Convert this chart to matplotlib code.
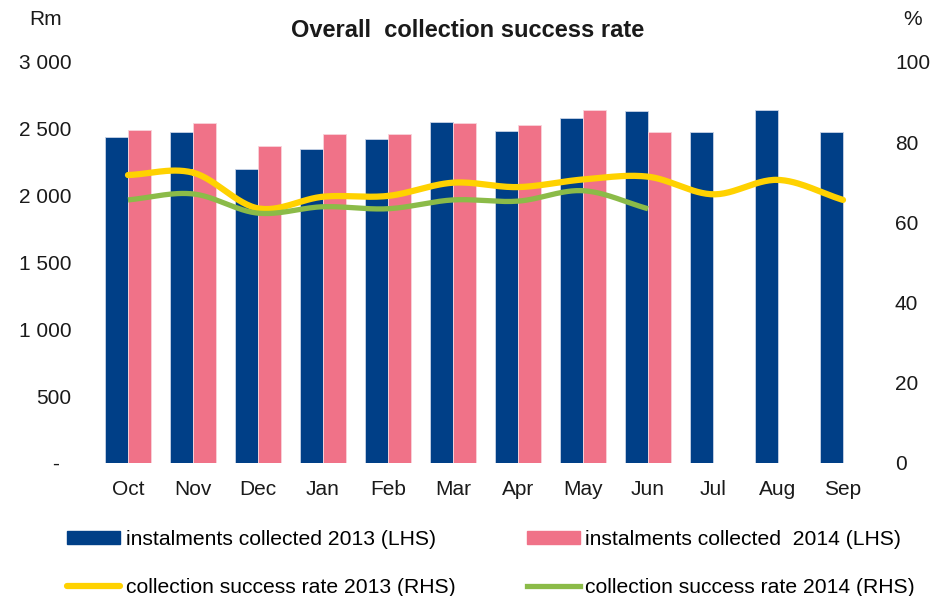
import numpy as np
import matplotlib.pyplot as plt
from matplotlib.lines import Line2D
from matplotlib.patches import Patch

plt.rcParams['font.family'] = ['Liberation Sans', 'DejaVu Sans']

months = ['Oct', 'Nov', 'Dec', 'Jan', 'Feb', 'Mar', 'Apr', 'May', 'Jun', 'Jul', 'Aug', 'Sep']
collected_2013 = [2437, 2479, 2197, 2349, 2422, 2551, 2484, 2583, 2631, 2479, 2641, 2474]
collected_2014 = [2491, 2546, 2369, 2464, 2464, 2541, 2526, 2641, 2476]
rate_2013 = [71.8, 72.4, 63.5, 66.4, 66.6, 69.9, 68.8, 70.7, 71.4, 67.0, 70.6, 65.6]
rate_2014 = [65.6, 67.1, 62.3, 63.9, 63.4, 65.6, 65.3, 67.9, 63.4]

BLUE = '#003f87'
PINK = '#f07288'
YELLOW = '#ffd200'
GREEN = '#8bbb48'


def smooth(x, y, steps=30):
    # Catmull-Rom curve through the monthly points
    x = np.asarray(x, float)
    y = np.asarray(y, float)
    px = np.concatenate([[2 * x[0] - x[1]], x, [2 * x[-1] - x[-2]]])
    py = np.concatenate([[2 * y[0] - y[1]], y, [2 * y[-1] - y[-2]]])
    xs, ys = [], []
    t = np.linspace(0, 1, steps)
    for i in range(1, len(px) - 2):
        for p, out in ((px, xs), (py, ys)):
            p0, p1, p2, p3 = p[i - 1], p[i], p[i + 1], p[i + 2]
            out.append(0.5 * (2 * p1 + (-p0 + p2) * t
                              + (2 * p0 - 5 * p1 + 4 * p2 - p3) * t ** 2
                              + (-p0 + 3 * p1 - 3 * p2 + p3) * t ** 3))
    return np.concatenate(xs), np.concatenate(ys)


fig = plt.figure(figsize=(9.38, 5.96), dpi=100)
ax = fig.add_axes([0.1018, 0.2232, 0.8316, 0.6728])
ax2 = ax.twinx()

x = np.arange(len(months))
w = 0.36
ax.bar(x - w / 2, collected_2013, w, color=BLUE, edgecolor='#c8d3e6', linewidth=0.6, zorder=2)
ax.bar(x[:len(collected_2014)] + w / 2, collected_2014, w, color=PINK, edgecolor='#f9d3da',
       linewidth=0.6, zorder=2)

sx, sy = smooth(x, rate_2013)
ax2.plot(sx, sy, color=YELLOW, lw=4.5, solid_capstyle='round', zorder=3)
sx, sy = smooth(x[:len(rate_2014)], rate_2014)
ax2.plot(sx, sy, color=GREEN, lw=3.8, solid_capstyle='butt', zorder=3)

ax.set_xlim(-0.5, len(months) - 0.5)
ax.set_ylim(0, 3000)
ax2.set_ylim(0, 100)
ax.set_yticks(range(0, 3001, 500))
ax.set_yticklabels(['-  ', '500', '1 000', '1 500', '2 000', '2 500', '3 000'])
ax2.set_yticks(range(0, 101, 20))
ax.set_xticks(x)
ax.set_xticklabels(months)

for a in (ax, ax2):
    for s in a.spines.values():
        s.set_visible(False)
    a.tick_params(length=0, labelsize=15, colors='#1a1a1a')
ax.tick_params(axis='y', pad=17.5)
ax2.tick_params(axis='y', pad=14)
ax.tick_params(axis='x', pad=12.5)

fig.text(0.4985, 0.949, 'Overall  collection success rate', ha='center', va='center',
         fontsize=17, fontweight='bold', color='#1a1a1a')
fig.text(0.049, 0.968, 'Rm', ha='center', va='center', fontsize=15, color='#1a1a1a')
fig.text(0.973, 0.968, '%', ha='center', va='center', fontsize=15, color='#1a1a1a')

handles = [Patch(color=BLUE), Patch(color=PINK),
           Line2D([], [], color=YELLOW, lw=4.5, solid_capstyle='round'),
           Line2D([], [], color=GREEN, lw=3.8)]
labels = ['instalments collected 2013 (LHS)', 'instalments collected  2014 (LHS)',
          'collection success rate 2013 (RHS)', 'collection success rate 2014 (RHS)']
order = [0, 2, 1, 3]
fig.legend([handles[i] for i in order], [labels[i] for i in order], ncol=2,
           loc='lower left', bbox_to_anchor=(0.0517, -0.033), frameon=False,
           fontsize=15.2, handlelength=2.48, handleheight=0.55, handletextpad=0.28,
           columnspacing=3.4, labelspacing=1.37)

fig.savefig('out.png', dpi=100)
